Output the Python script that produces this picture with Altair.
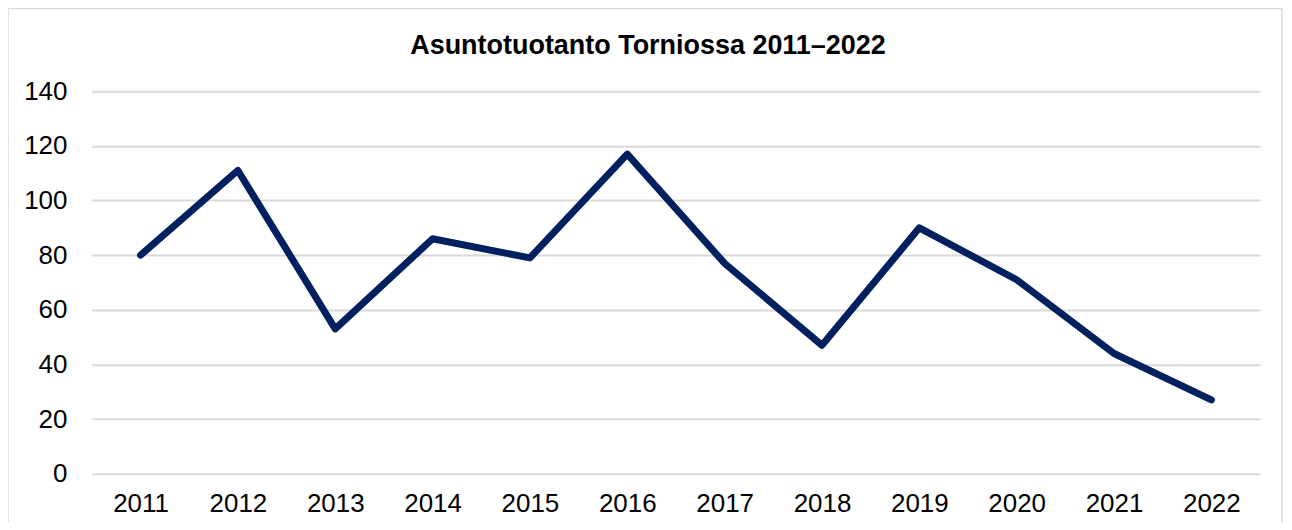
import altair as alt
import pandas as pd

years = ["2011", "2012", "2013", "2014", "2015", "2016", "2017", "2018", "2019", "2020", "2021", "2022"]
values = [80, 111, 53, 86, 79, 117, 77, 47, 90, 71, 44, 27]
title_text = "Asuntotuotanto Torniossa 2011–2022"
y_ticks = [0, 20, 40, 60, 80, 100, 120, 140]

df = pd.DataFrame({"year": years, "value": values})

W, H = 1170, 383
FONT = "Liberation Sans"

frame = alt.Chart(pd.DataFrame({"a": [0]})).mark_rect(
    fillOpacity=0, stroke="#d9d9d9", strokeWidth=1.5, clip=False
).encode(
    x=alt.value(-84), x2=alt.value(W + 22), y=alt.value(-83), y2=alt.value(H + 80)
)

title = alt.Chart(pd.DataFrame({"t": [title_text]})).mark_text(
    font=FONT, fontSize=27, fontWeight="bold", color="#000000",
    align="center", baseline="alphabetic", clip=False
).encode(
    text="t:N", x=alt.value(557), y=alt.value(-37)
)

line = alt.Chart(df).mark_line(
    color="#002060", strokeWidth=7, strokeCap="round", strokeJoin="round"
).encode(
    x=alt.X("year:O", sort=years, scale=alt.Scale(type="point", padding=0.5),
            axis=alt.Axis(title=None, labelAngle=0, labelFontSize=26, labelColor="#000000",
                          labelFont=FONT, labelPadding=17, ticks=False,
                          domain=False, grid=False)),
    y=alt.Y("value:Q", scale=alt.Scale(domain=[0, 140], nice=False),
            axis=alt.Axis(title=None, values=y_ticks, labelFontSize=26, labelColor="#000000",
                          labelFont=FONT, labelPadding=25, ticks=False,
                          domain=False, gridColor="#d9d9d9", gridWidth=2)),
)

chart = alt.layer(frame, line, title).properties(
    width=W, height=H,
    autosize=alt.AutoSizeParams(type="none"),
    padding={"left": 84, "top": 83, "right": 24, "bottom": 48},
).configure_view(stroke=None)

chart.save("out.html", embed_options={"renderer": "svg", "actions": False})
